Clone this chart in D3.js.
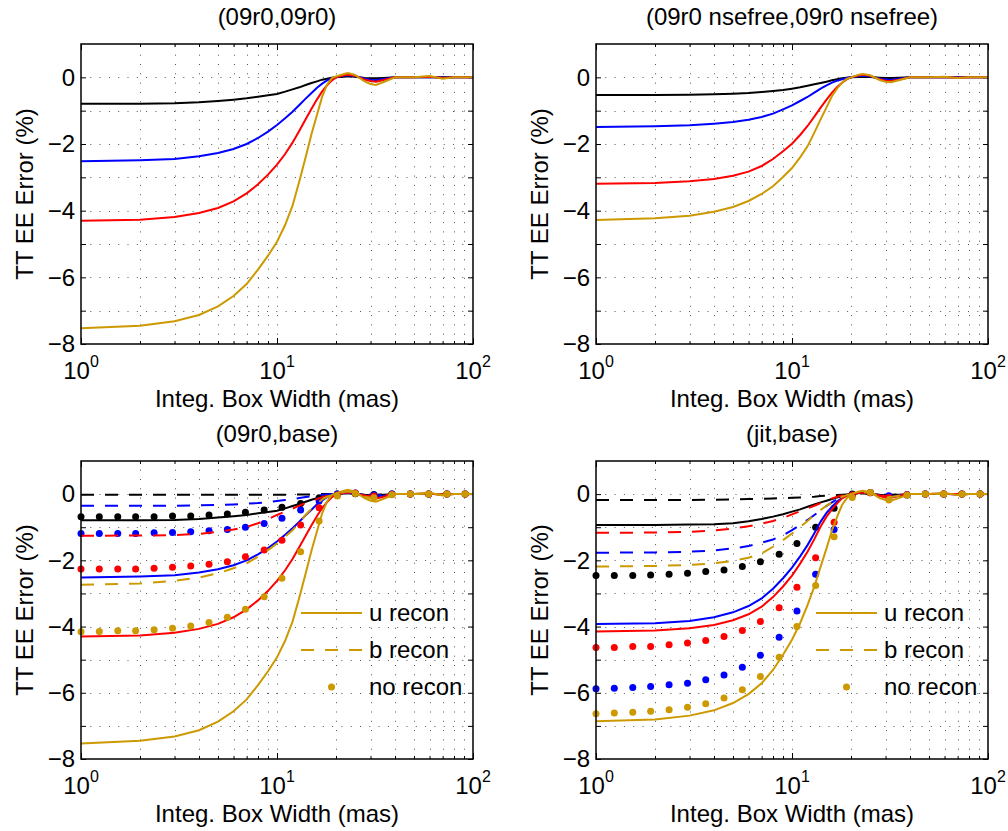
<!DOCTYPE html>
<html>
<head>
<meta charset="utf-8">
<script src="https://cdn.jsdelivr.net/npm/d3@7"></script>
<style>
  body { margin: 0; background: #fff; }
  svg { font-family: "Liberation Sans", Arial, Helvetica, sans-serif; }
</style>
</head>
<body>
<div id="my_dataviz"></div>
<script>
// box widths (mas) where the curves are sampled
const xLine = [1, 2, 3, 4, 5, 6, 7, 8, 9, 10, 11, 12, 13, 14, 15, 16, 17, 18, 19, 20,
               22, 23, 25, 28, 30, 32, 35, 40, 50, 60, 70, 80, 100];
// box widths (mas) of the "no recon" points
const xDots = [1, 1.24, 1.54, 1.9, 2.36, 2.93, 3.63, 4.5, 5.58, 6.9, 8.6,
               10.6, 13.2, 16.4, 20.3, 25.1, 31.2, 38.6, 47.9, 59.4, 73.6, 91.2];

// (09r0,09r0) - u recon, also the u recon of (09r0,base)
const blackU09 = [-0.79,-0.79,-0.78,-0.75,-0.71,-0.67,-0.63,-0.58,-0.54,-0.5,-0.43,-0.36,-0.3,-0.23,-0.17,-0.12,-0.07,-0.04,-0.01,0,
                  0.02,0.03,0.02,-0.02,-0.03,-0.03,-0.02,0,0,0,0,0,0];
const blueU09  = [-2.52,-2.49,-2.45,-2.37,-2.27,-2.15,-2.0,-1.82,-1.63,-1.43,-1.23,-1.03,-0.83,-0.64,-0.47,-0.31,-0.19,-0.09,-0.03,0,
                  0.05,0.06,0.04,-0.04,-0.07,-0.08,-0.05,0,0,0.01,-0.01,0,0];
const redU09   = [-4.30,-4.27,-4.19,-4.07,-3.92,-3.72,-3.48,-3.21,-2.92,-2.62,-2.3,-1.96,-1.6,-1.26,-0.94,-0.66,-0.42,-0.24,-0.1,0,
                  0.06,0.08,0.05,-0.07,-0.11,-0.13,-0.08,0,0,0.02,-0.02,0,0];
const goldU09  = [-7.53,-7.45,-7.32,-7.13,-6.87,-6.56,-6.2,-5.77,-5.35,-4.93,-4.43,-3.85,-3.12,-2.4,-1.7,-1.12,-0.58,-0.22,-0.03,0.03,
                  0.1,0.13,0.07,-0.12,-0.2,-0.23,-0.14,0,0,0.04,-0.04,0,0];

// (09r0 nsefree,09r0 nsefree)
const blackUNse = [-0.53,-0.53,-0.52,-0.51,-0.49,-0.47,-0.44,-0.41,-0.38,-0.34,-0.3,-0.25,-0.21,-0.17,-0.13,-0.09,-0.06,-0.03,-0.01,0,
                   0.01,0.02,0.01,-0.01,-0.02,-0.02,-0.01,0,0,0,0,0,0];
const blueUNse  = [-1.49,-1.47,-1.44,-1.39,-1.34,-1.27,-1.19,-1.09,-0.96,-0.84,-0.71,-0.59,-0.46,-0.34,-0.24,-0.16,-0.1,-0.06,-0.02,0,
                   0.04,0.05,0.03,-0.04,-0.06,-0.07,-0.04,0,0,0,0,0,0];
const redUNse   = [-3.19,-3.17,-3.12,-3.05,-2.95,-2.83,-2.66,-2.45,-2.22,-1.99,-1.73,-1.46,-1.18,-0.91,-0.67,-0.46,-0.29,-0.16,-0.06,0,
                   0.06,0.08,0.05,-0.06,-0.1,-0.11,-0.07,0,0,0.01,-0.01,0,0];
const goldUNse  = [-4.28,-4.23,-4.15,-4.03,-3.89,-3.71,-3.5,-3.27,-2.99,-2.72,-2.4,-2.07,-1.66,-1.26,-0.9,-0.56,-0.33,-0.16,-0.05,0,
                   0.08,0.1,0.06,-0.08,-0.13,-0.15,-0.09,0,0,0.02,-0.02,0,0];

// (09r0,base) - b recon
const blackB09 = [-0.02,-0.02,-0.02,-0.02,-0.02,-0.02,-0.02,-0.02,-0.02,-0.02,-0.02,-0.01,-0.01,-0.01,-0.01,0,0,0,0,0,
                  0.02,0.03,0.02,-0.01,-0.02,-0.02,-0.01,0,0,0,0,0,0];
const blueB09  = [-0.35,-0.35,-0.35,-0.34,-0.33,-0.31,-0.29,-0.27,-0.24,-0.21,-0.18,-0.15,-0.12,-0.09,-0.06,-0.04,-0.02,-0.01,0,0,
                  0.03,0.04,0.02,-0.02,-0.04,-0.04,-0.02,0,0,0,0,0,0];
const redB09   = [-1.26,-1.25,-1.24,-1.2,-1.14,-1.07,-0.99,-0.88,-0.76,-0.63,-0.53,-0.44,-0.35,-0.27,-0.2,-0.15,-0.09,-0.05,-0.02,0,
                  0.04,0.05,0.03,-0.04,-0.06,-0.07,-0.04,0,0,0.01,-0.01,0,0];
const goldB09  = [-2.74,-2.70,-2.62,-2.52,-2.39,-2.24,-2.09,-1.89,-1.69,-1.49,-1.29,-1.09,-0.86,-0.63,-0.44,-0.28,-0.16,-0.08,-0.03,0,
                  0.06,0.08,0.05,-0.07,-0.11,-0.13,-0.08,0,0,0.02,-0.02,0,0];
// (09r0,base) - no recon
const blackN09 = [-0.68,-0.68,-0.68,-0.68,-0.68,-0.66,-0.66,-0.63,-0.6,-0.55,-0.48,-0.4,-0.28,-0.11,0,0.01,-0.01,0,0,0,0,0];
const blueN09  = [-1.19,-1.19,-1.19,-1.19,-1.17,-1.16,-1.14,-1.11,-1.07,-1.0,-0.89,-0.73,-0.48,-0.21,0,0.03,-0.03,0,0,0,0,0];
const redN09   = [-2.26,-2.26,-2.26,-2.26,-2.24,-2.21,-2.17,-2.12,-2.04,-1.89,-1.69,-1.39,-0.93,-0.41,-0.03,0.03,-0.06,-0.01,0,0,0,0];
const goldN09  = [-4.16,-4.15,-4.13,-4.13,-4.10,-4.05,-3.98,-3.88,-3.72,-3.48,-3.1,-2.54,-1.74,-0.81,-0.06,0.02,-0.11,-0.02,0,0,0,0];

// (jit,base) - u recon
const blackUJit = [-0.93,-0.93,-0.92,-0.91,-0.88,-0.82,-0.75,-0.68,-0.61,-0.53,-0.46,-0.38,-0.31,-0.25,-0.2,-0.15,-0.1,-0.06,-0.03,0,
                   0.03,0.04,0.02,-0.02,-0.04,-0.04,-0.02,0,0,0,0,0,0];
const blueUJit  = [-3.92,-3.9,-3.83,-3.72,-3.57,-3.38,-3.15,-2.86,-2.54,-2.22,-1.88,-1.54,-1.18,-0.83,-0.57,-0.38,-0.22,-0.11,-0.04,0,
                   0.05,0.06,0.04,-0.05,-0.08,-0.09,-0.05,0,0,0.01,-0.01,0,0];
const redUJit   = [-4.15,-4.12,-4.05,-3.95,-3.81,-3.63,-3.4,-3.11,-2.79,-2.46,-2.1,-1.74,-1.36,-0.98,-0.68,-0.46,-0.28,-0.13,-0.05,0,
                   0.05,0.07,0.04,-0.06,-0.1,-0.11,-0.06,0,0,0.01,-0.01,0,0];
const goldUJit  = [-6.86,-6.81,-6.69,-6.53,-6.31,-6.04,-5.71,-5.31,-4.85,-4.4,-3.9,-3.35,-2.79,-2.19,-1.64,-1.09,-0.68,-0.33,-0.13,0,
                   0.08,0.1,0.06,-0.12,-0.18,-0.2,-0.12,0,0,0.03,-0.03,0,0];
// (jit,base) - b recon
const blackBJit = [-0.18,-0.18,-0.18,-0.17,-0.16,-0.15,-0.14,-0.13,-0.12,-0.11,-0.1,-0.09,-0.08,-0.06,-0.05,-0.04,-0.03,-0.02,-0.01,0,
                   0.02,0.02,0.01,-0.01,-0.02,-0.02,-0.01,0,0,0,0,0,0];
const blueBJit  = [-1.77,-1.76,-1.74,-1.7,-1.64,-1.57,-1.47,-1.37,-1.24,-1.09,-0.93,-0.78,-0.63,-0.49,-0.36,-0.25,-0.15,-0.08,-0.03,0,
                   0.04,0.05,0.03,-0.04,-0.07,-0.08,-0.05,0,0,0,0,0,0];
const redBJit   = [-1.17,-1.16,-1.14,-1.1,-1.04,-0.97,-0.89,-0.81,-0.72,-0.61,-0.52,-0.43,-0.35,-0.27,-0.2,-0.13,-0.08,-0.04,-0.01,0,
                   0.04,0.05,0.03,-0.04,-0.06,-0.07,-0.04,0,0,0,0,0,0];
const goldBJit  = [-2.19,-2.17,-2.14,-2.09,-2.02,-1.92,-1.79,-1.59,-1.39,-1.19,-0.99,-0.81,-0.63,-0.48,-0.35,-0.25,-0.15,-0.08,-0.03,0,
                   0.05,0.06,0.04,-0.05,-0.08,-0.09,-0.05,0,0,0.01,-0.01,0,0];
// (jit,base) - no recon
const blackNJit = [-2.46,-2.46,-2.46,-2.44,-2.42,-2.39,-2.34,-2.29,-2.19,-2.04,-1.82,-1.49,-1.0,-0.43,0,0.05,-0.08,-0.03,0,0,0,0];
const blueNJit  = [-5.88,-5.86,-5.84,-5.81,-5.76,-5.71,-5.61,-5.46,-5.23,-4.87,-4.32,-3.53,-2.42,-1.07,-0.03,0.04,-0.05,-0.01,0,0,0,0];
const redNJit   = [-4.63,-4.63,-4.6,-4.6,-4.55,-4.5,-4.42,-4.3,-4.12,-3.85,-3.43,-2.81,-1.92,-0.85,-0.03,0.04,-0.1,-0.02,0,0,0,0];
const goldNJit  = [-6.63,-6.61,-6.59,-6.56,-6.51,-6.44,-6.33,-6.16,-5.91,-5.51,-4.93,-4.0,-2.76,-1.29,-0.1,0.05,-0.18,-0.03,0,0,0,0];

// ticks and labels
const xMajor = [1, 10, 100];
const xExponents = ["0", "1", "2"];
const xMinor = [2, 3, 4, 5, 6, 7, 8, 9, 20, 30, 40, 50, 60, 70, 80, 90];
const yMajor = [-8, -6, -4, -2, 0];
const yAll = [-8, -7, -6, -5, -4, -3, -2, -1, 0];
const titles = ["(09r0,09r0)", "(09r0 nsefree,09r0 nsefree)", "(09r0,base)", "(jit,base)"];
const legendLabels = ["u recon", "b recon", "no recon"];
const xLabel = "Integ. Box Width (mas)";
const yLabel = "TT EE Error (%)";

// line colours in drawing order
const colors = ["#000000", "#0000ff", "#ff0000", "#cc9900"];

// constant dimensions
const width = 1008, height = 831;
const panelW = 392;

var panels = [
    {title: titles[0], left: 81, top: 44, h: 300,
     u: [blackU09, blueU09, redU09, goldU09], b: null, n: null},
    {title: titles[1], left: 596, top: 44, h: 300,
     u: [blackUNse, blueUNse, redUNse, goldUNse], b: null, n: null},
    {title: titles[2], left: 81, top: 461, h: 298,
     u: [blackU09, blueU09, redU09, goldU09],
     b: [blackB09, blueB09, redB09, goldB09],
     n: [blackN09, blueN09, redN09, goldN09]},
    {title: titles[3], left: 596, top: 461, h: 298,
     u: [blackUJit, blueUJit, redUJit, goldUJit],
     b: [blackBJit, blueBJit, redBJit, goldBJit],
     n: [blackNJit, blueNJit, redNJit, goldNJit]}
];

var svg = d3.select("#my_dataviz")
    .append("svg")
    .attr("width", width)
    .attr("height", height);

panels.forEach(drawPanel);

function drawPanel(p) {
    var g = svg.append("g")
        .attr("transform", "translate(" + p.left + "," + p.top + ")");

    var x = d3.scaleLog().domain([1, 100]).range([0, panelW]);
    var y = d3.scaleLinear().domain([-8, 1]).range([p.h, 0]);

    // dotted grid
    var grid = g.append("g")
        .attr("stroke", "#555")
        .attr("stroke-width", 1)
        .attr("stroke-dasharray", "1,8.3");
    grid.selectAll(".gx")
        .data(xMinor.concat([10]))
        .enter()
        .append("line")
        .attr("x1", d => Math.round(x(d)) + 0.5)
        .attr("x2", d => Math.round(x(d)) + 0.5)
        .attr("y1", p.h)
        .attr("y2", 0);
    grid.selectAll(".gy")
        .data(yAll.slice(1))
        .enter()
        .append("line")
        .attr("x1", 0)
        .attr("x2", panelW)
        .attr("y1", d => Math.round(y(d)) + 0.5)
        .attr("y2", d => Math.round(y(d)) + 0.5);

    // ticks pointing inwards on all four sides
    function ticks(axis, values, size, transform) {
        g.append("g")
            .attr("transform", transform)
            .call(axis.tickValues(values).tickSize(-size).tickFormat(""))
            .call(a => a.select(".domain").remove());
    }
    ticks(d3.axisBottom(x), xMajor, 6, "translate(0," + p.h + ")");
    ticks(d3.axisBottom(x), xMinor, 3, "translate(0," + p.h + ")");
    ticks(d3.axisTop(x), xMajor, 6, "translate(0,0)");
    ticks(d3.axisTop(x), xMinor, 3, "translate(0,0)");
    ticks(d3.axisLeft(y), yAll, 5, "translate(0,0)");
    ticks(d3.axisRight(y), yAll, 5, "translate(" + panelW + ",0)");

    // y tick labels
    g.append("g")
        .call(d3.axisLeft(y).tickValues(yMajor).tickSize(0).tickPadding(6))
        .call(a => a.select(".domain").remove())
        .selectAll("text")
        .attr("font-size", 24)
        .attr("font-family", "Liberation Sans, Arial, sans-serif")
        .attr("fill", "#000");

    // x tick labels 10^n
    var xl = g.selectAll(".xlab")
        .data(xMajor)
        .enter()
        .append("text")
        .attr("x", d => x(d))
        .attr("y", p.h + 35)
        .attr("text-anchor", "middle")
        .attr("font-size", 24);
    xl.append("tspan").text("10");
    xl.append("tspan")
        .attr("font-size", 16)
        .attr("dy", -12)
        .text((d, i) => xExponents[i]);

    // curves
    var line = d3.line()
        .x(d => x(d[0]))
        .y(d => y(d[1]));

    colors.forEach(function(c, i) {
        g.append("path")
            .datum(d3.zip(xLine, p.u[i]))
            .attr("fill", "none")
            .attr("stroke", c)
            .attr("stroke-width", 2)
            .attr("d", line);
        if (p.b) {
            g.append("path")
                .datum(d3.zip(xLine, p.b[i]))
                .attr("fill", "none")
                .attr("stroke", c)
                .attr("stroke-width", 2)
                .attr("stroke-dasharray", "13,11")
                .attr("d", line);
        }
        if (p.n) {
            g.selectAll(".dot" + i)
                .data(d3.zip(xDots, p.n[i]))
                .enter()
                .append("circle")
                .attr("cx", d => x(d[0]))
                .attr("cy", d => y(d[1]))
                .attr("r", 3.5)
                .attr("fill", c);
        }
    });

    // frame
    g.append("rect")
        .attr("width", panelW)
        .attr("height", p.h)
        .attr("fill", "none")
        .attr("stroke", "#000")
        .attr("stroke-width", 1.5);

    // legend (only the panels with three recon types)
    if (p.n) {
        var gold = colors[3];
        var lx0 = panelW - 172, lx1 = panelW - 111;
        var rows = [152, 189, 226];
        g.append("line")
            .attr("x1", lx0).attr("x2", lx1)
            .attr("y1", rows[0]).attr("y2", rows[0])
            .attr("stroke", gold).attr("stroke-width", 2);
        g.append("line")
            .attr("x1", lx0).attr("x2", lx1)
            .attr("y1", rows[1]).attr("y2", rows[1])
            .attr("stroke", gold).attr("stroke-width", 2)
            .attr("stroke-dasharray", "13,11");
        g.append("circle")
            .attr("cx", (lx0 + lx1) / 2).attr("cy", rows[2])
            .attr("r", 3.5).attr("fill", gold);
        g.selectAll(".leg")
            .data(legendLabels)
            .enter()
            .append("text")
            .attr("x", lx1 + 7)
            .attr("y", (d, i) => rows[i])
            .attr("dy", "0.35em")
            .attr("font-size", 24)
            .text(d => d);
    }

    // title
    g.append("text")
        .attr("x", panelW / 2)
        .attr("y", -19)
        .attr("text-anchor", "middle")
        .attr("font-size", 24)
        .text(p.title);

    // X-Axis Label
    g.append("text")
        .attr("x", panelW / 2)
        .attr("y", p.h + 63)
        .attr("text-anchor", "middle")
        .attr("font-size", 24)
        .text(xLabel);

    // Y-Axis Label
    g.append("text")
        .attr("transform", "translate(-56," + (p.h / 2) + ") rotate(-90)")
        .attr("text-anchor", "middle")
        .attr("dy", "0.35em")
        .attr("font-size", 24)
        .text(yLabel);
}
</script>
</body>
</html>
